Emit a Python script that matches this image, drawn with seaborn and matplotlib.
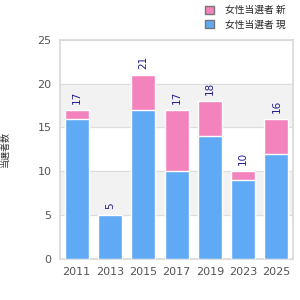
import matplotlib
matplotlib.use("Agg")
import matplotlib.pyplot as plt
import pandas as pd
import seaborn as sns
from matplotlib.patches import Patch

years = ["2011", "2013", "2015", "2017", "2019", "2023", "2025"]
returning = [16, 5, 17, 10, 14, 9, 12]
new = [1, 0, 4, 7, 4, 1, 4]
legend_new = "女性当選者 新"
legend_returning = "女性当選者 現"
y_title = "当選者数"

total = [r + n for r, n in zip(returning, new)]
df = pd.DataFrame({"year": years, "returning": returning, "total": total})

sns.set_theme(style="white")
plt.rcParams["font.family"] = ["Noto Sans CJK JP", "DejaVu Sans"]

pink = "#f383bd"
blue = "#60a9f4"

fig = plt.figure(figsize=(3, 3), dpi=100)
ax = fig.add_axes([0.2, 0.137, 0.777, 0.73])

# alternating background bands
for lo in (5, 15):
    ax.axhspan(lo, lo + 5, color="#f2f2f2", zorder=0)
for y in range(0, 26, 5):
    ax.axhline(y, color="#dddddd", linewidth=0.8, zorder=0.5)

sns.barplot(data=df, x="year", y="total", color=pink, width=0.72,
            saturation=1, ax=ax, zorder=2)
sns.barplot(data=df, x="year", y="returning", color=blue, width=0.72,
            saturation=1, ax=ax, zorder=3)

for i, t in enumerate(total):
    ax.text(i, t + 0.7, str(t), rotation=90, ha="center", va="bottom",
            fontsize=7.5, color="#1f1f8f", family="DejaVu Sans", zorder=4)

ax.set_ylim(0, 25)
ax.set_xlim(-0.5, len(years) - 0.5)
ax.set_yticks(range(0, 26, 5))
ax.set_xlabel("")
ax.set_ylabel(y_title, fontsize=6.5, color="#333333")
ax.yaxis.set_label_coords(-0.215, 0.5)
ax.tick_params(axis="both", labelsize=8, colors="#555555", length=0, pad=6)
for lab in ax.get_xticklabels() + ax.get_yticklabels():
    lab.set_family("DejaVu Sans")
for side in ("top", "left", "right", "bottom"):
    ax.spines[side].set_color("#d9d9d9")

handles = [Patch(facecolor=pink, edgecolor="#777777", linewidth=1),
           Patch(facecolor=blue, edgecolor="#777777", linewidth=1)]
fig.legend(handles, [legend_new, legend_returning], loc="upper left",
           bbox_to_anchor=(0.655, 1.012), frameon=False, fontsize=7,
           handlelength=0.9, handleheight=0.9, handletextpad=1.1,
           labelspacing=0.45)

fig.savefig("out.png", dpi=100)
